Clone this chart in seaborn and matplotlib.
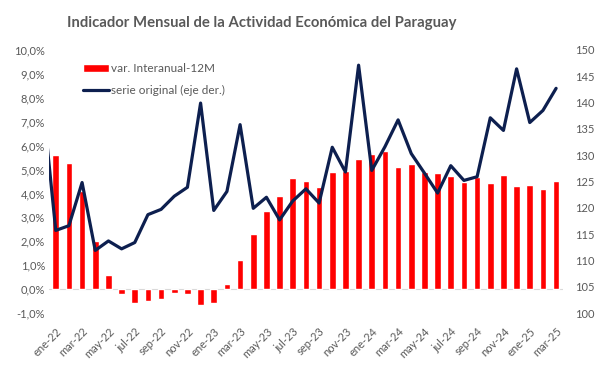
import matplotlib
matplotlib.use("Agg")
import matplotlib.pyplot as plt
import seaborn as sns
import pandas as pd
from matplotlib.ticker import FuncFormatter

# meses (ene-22 a mar-25)
meses = ["ene-22", "feb-22", "mar-22", "abr-22", "may-22", "jun-22", "jul-22", "ago-22",
         "sep-22", "oct-22", "nov-22", "dic-22", "ene-23", "feb-23", "mar-23", "abr-23",
         "may-23", "jun-23", "jul-23", "ago-23", "sep-23", "oct-23", "nov-23", "dic-23",
         "ene-24", "feb-24", "mar-24", "abr-24", "may-24", "jun-24", "jul-24", "ago-24",
         "sep-24", "oct-24", "nov-24", "dic-24", "ene-25", "feb-25", "mar-25"]

# var. interanual 12M (%)
var_interanual = [5.6, 5.27, 4.1, 2.0, 0.61, -0.22, -0.6, -0.49, -0.4, -0.15, -0.22, -0.66,
                  -0.6, 0.21, 1.23, 2.3, 3.26, 3.89, 4.64, 4.53, 4.28, 4.88, 4.94, 5.45,
                  5.65, 5.77, 5.10, 5.23, 4.88, 4.85, 4.71, 4.48, 4.70, 4.43, 4.77, 4.32,
                  4.35, 4.20, 4.50]

# serie original (eje der.), incluye dic-21 que queda cortado en el borde
serie_previa = 140.5
serie_original = [115.7, 116.6, 124.8, 111.9, 113.7, 112.2, 113.4, 118.7, 119.7, 122.2,
                  123.9, 139.9, 119.5, 123.1, 135.8, 119.9, 122.0, 117.7, 121.3, 123.6,
                  120.9, 131.5, 126.8, 147.1, 127.1, 131.6, 136.7, 130.3, 126.6, 122.8,
                  128.0, 125.2, 125.9, 137.1, 134.7, 146.4, 136.2, 138.5, 142.7]

rojo = "#FF0000"
azul = "#0D1F4F"
gris = "#595959"

sns.set_style("white")
plt.rcParams["font.family"] = ["Lato", "DejaVu Sans"]

df = pd.DataFrame({"mes": meses, "var": var_interanual})
df_linea = pd.DataFrame({"pos": range(-1, len(meses)),
                         "serie": [serie_previa] + serie_original})

fig = plt.figure(figsize=(6.07, 3.67), dpi=100)
ax = fig.add_axes([0.081, 0.147, 0.846, 0.717])

sns.barplot(data=df, x="mes", y="var", color=rojo, width=0.5, saturation=1,
            ax=ax, label="var. Interanual-12M")
ax.axhline(0, color="#D9D9D9", lw=0.8, zorder=0)
ax.set_ylim(-1, 10)
ax.set_yticks(range(-1, 11))
ax.yaxis.set_major_formatter(FuncFormatter(lambda v, p: f"{v:.1f}%".replace(".", ",")))
ax.set_xlim(-0.5, len(meses) - 0.5)
ax.set_xticks(range(0, len(meses), 2))
ax.set_xticklabels(meses[::2], rotation=45, ha="right", rotation_mode="anchor")
ax.set_xlabel("")
ax.set_ylabel("")
ax.tick_params(axis="both", length=0, labelsize=8, colors=gris, pad=3)
ax.tick_params(axis="x", pad=9)

ax2 = ax.twinx()
sns.lineplot(data=df_linea, x="pos", y="serie", color=azul, lw=2.3, ax=ax2,
             label="serie original (eje der.)")
ax2.set_xlim(-0.5, len(meses) - 0.5)
ax2.set_ylim(100, 150)
ax2.set_yticks(range(100, 151, 5))
ax2.set_ylabel("")
ax2.tick_params(axis="y", length=0, labelsize=8, colors=gris, pad=9)

for a in (ax, ax2):
    for s in a.spines.values():
        s.set_visible(False)

h1, l1 = ax.get_legend_handles_labels()
h2, l2 = ax2.get_legend_handles_labels()
if ax2.get_legend():
    ax2.get_legend().remove()
ax.legend(h1 + h2, l1 + l2, loc="upper left", bbox_to_anchor=(0.045, 0.99),
          frameon=False, fontsize=8.5, labelcolor=gris, handlelength=2.2,
          handletextpad=0.15, labelspacing=0.9)

fig.text(0.432, 0.938, "Indicador Mensual de la Actividad Económica del Paraguay",
         ha="center", va="center", fontsize=10.7, fontweight="bold", color=gris)

fig.savefig("out.png", dpi=100)
